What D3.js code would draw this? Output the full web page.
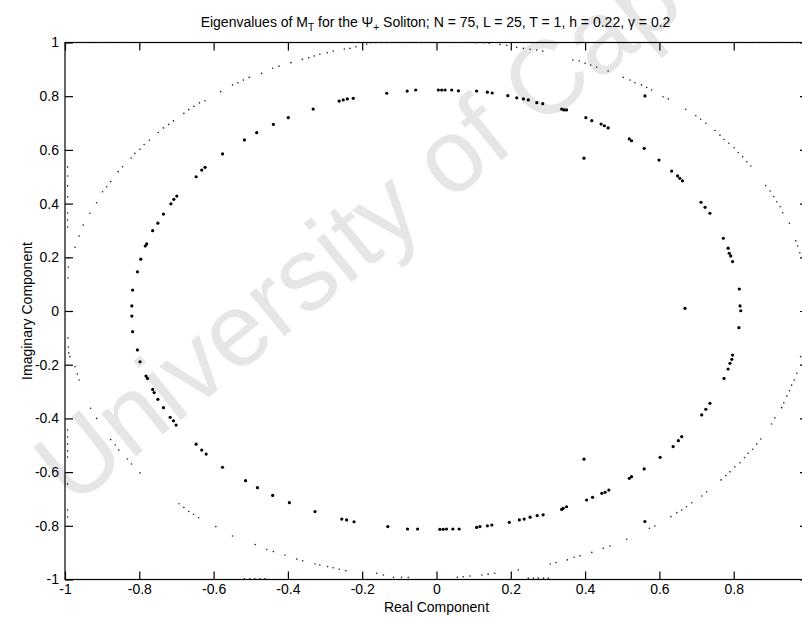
<!DOCTYPE html>
<html>
<head>
<meta charset="utf-8">
<script src="https://cdn.jsdelivr.net/npm/d3@7"></script>
<style>
  body { margin: 0; background: #fff; }
  svg { display: block; }
  text { font-family: "Liberation Sans", Arial, Helvetica, sans-serif; }
</style>
</head>
<body>
<svg id="chart" width="802" height="620"></svg>
<script>
// Eigenvalues on the inner ring (plus a few isolated ones), as [real, imaginary]
const innerEigs = [
  [-0.820, 0.019], [-0.818, 0.078], [-0.805, 0.146], [-0.796, 0.193], [-0.784, 0.242],
  [-0.780, 0.250], [-0.764, 0.299], [-0.750, 0.327], [-0.735, 0.361], [-0.715, 0.399],
  [-0.707, 0.416], [-0.699, 0.428], [-0.647, 0.500], [-0.632, 0.525], [-0.623, 0.535],
  [-0.576, 0.585], [-0.517, 0.637], [-0.484, 0.664], [-0.439, 0.695], [-0.399, 0.720],
  [-0.332, 0.752], [-0.262, 0.782], [-0.251, 0.786], [-0.240, 0.790], [-0.224, 0.792],
  [-0.134, 0.811], [-0.079, 0.819], [-0.056, 0.823], [0.005, 0.823], [0.014, 0.823],
  [0.023, 0.823], [0.041, 0.823], [0.059, 0.820], [0.108, 0.819], [0.137, 0.815],
  [0.150, 0.812], [0.192, 0.802], [0.216, 0.794], [0.234, 0.790], [0.247, 0.786],
  [0.270, 0.776], [0.286, 0.772], [0.337, 0.752], [0.343, 0.749], [0.350, 0.749],
  [0.402, 0.720], [0.418, 0.709], [0.443, 0.696], [0.452, 0.690], [0.462, 0.682],
  [0.519, 0.641], [0.525, 0.634], [0.559, 0.606], [0.599, 0.562], [0.633, 0.521],
  [0.649, 0.503], [0.655, 0.494], [0.662, 0.485], [0.712, 0.405], [0.723, 0.386],
  [0.736, 0.364], [0.772, 0.271], [0.785, 0.234], [0.788, 0.215], [0.792, 0.205],
  [0.797, 0.184], [0.815, 0.082], [0.817, 0.019], [0.819, 0.001], [0.814, -0.062],
  [0.797, -0.164], [0.795, -0.180], [0.790, -0.195], [0.785, -0.216], [0.774, -0.251],
  [0.736, -0.344], [0.725, -0.366], [0.714, -0.387], [0.660, -0.468], [0.651, -0.483],
  [0.637, -0.505], [0.602, -0.545], [0.559, -0.588], [0.525, -0.617], [0.519, -0.623],
  [0.464, -0.667], [0.454, -0.675], [0.445, -0.679], [0.420, -0.694], [0.404, -0.704],
  [0.350, -0.729], [0.341, -0.735], [0.337, -0.739], [0.287, -0.759], [0.271, -0.762],
  [0.252, -0.768], [0.236, -0.775], [0.223, -0.778], [0.196, -0.787], [0.149, -0.797],
  [0.137, -0.800], [0.117, -0.803], [0.108, -0.806], [0.061, -0.812], [0.044, -0.812],
  [0.027, -0.812], [0.018, -0.813], [0.009, -0.813], [-0.051, -0.812], [-0.078, -0.812],
  [-0.131, -0.803], [-0.222, -0.785], [-0.242, -0.778], [-0.255, -0.775], [-0.327, -0.747],
  [-0.396, -0.714], [-0.441, -0.687], [-0.482, -0.658], [-0.514, -0.632], [-0.576, -0.582],
  [-0.620, -0.533], [-0.632, -0.518], [-0.647, -0.496], [-0.701, -0.425], [-0.708, -0.409],
  [-0.717, -0.396], [-0.735, -0.360], [-0.750, -0.329], [-0.760, -0.304], [-0.764, -0.292],
  [-0.778, -0.251], [-0.782, -0.242], [-0.798, -0.189], [-0.805, -0.145], [-0.818, -0.077],
  [-0.820, -0.019],
  // isolated eigenvalues off the ring
  [0.397, 0.569], [0.397, -0.552], [0.669, 0.010], [0.561, 0.801], [0.561, -0.784]
];

// Eigenvalues near the unit circle, as [real, imaginary]
const outerEigs = [
  // column hugging Re = -1
  [-0.993, 0.536], [-0.993, 0.503], [-0.993, 0.466], [-0.993, 0.425], [-0.993, 0.365],
  [-0.993, 0.339], [-0.993, 0.313], [-0.991, 0.197], [-0.991, 0.164], [-0.992, 0.123],
  [-0.992, -0.101], [-0.991, -0.134], [-0.990, -0.156], [-0.987, -0.170], [-0.993, -0.443],
  [-0.993, -0.469], [-0.993, -0.495], [-0.993, -0.521], [-0.993, -0.544], [-0.993, -0.644],
  [-0.993, -0.741], [-0.993, -0.767],
  // upper-left arc
  [-0.973, 0.237], [-0.962, 0.279], [-0.951, 0.320], [-0.933, 0.364], [-0.915, 0.403],
  [-0.899, 0.444], [-0.888, 0.463], [-0.877, 0.482], [-0.857, 0.519], [-0.845, 0.537],
  [-0.822, 0.570], [-0.812, 0.587], [-0.798, 0.602], [-0.787, 0.620], [-0.773, 0.636],
  [-0.749, 0.665], [-0.735, 0.682], [-0.721, 0.695], [-0.708, 0.708], [-0.680, 0.736],
  [-0.667, 0.750], [-0.653, 0.762], [-0.638, 0.775], [-0.623, 0.783], [-0.581, 0.817],
  [-0.549, 0.842], [-0.535, 0.850], [-0.520, 0.860], [-0.504, 0.870], [-0.471, 0.885],
  [-0.441, 0.904], [-0.424, 0.912], [-0.392, 0.925], [-0.361, 0.937], [-0.344, 0.943],
  [-0.329, 0.950], [-0.314, 0.956], [-0.294, 0.962], [-0.278, 0.968], [-0.248, 0.976],
  [-0.233, 0.978], [-0.217, 0.984], [-0.188, 0.994], [-0.177, 0.999], [-0.161, 1.000],
  [-0.148, 1.000],
  // along the top edge
  [-0.134, 1.0], [-0.121, 1.0], [-0.106, 1.0], [-0.094, 1.0], [-0.080, 1.0],
  [-0.067, 1.0], [-0.053, 1.0], [-0.040, 1.0], [-0.026, 1.0], [-0.018, 1.0],
  [0.018, 1.0], [0.036, 1.0], [0.052, 1.0], [0.068, 1.0], [0.086, 1.0],
  [-0.995, 1.0], [-0.981, 1.0], [-0.968, 1.0], [-0.954, 1.0], [-0.941, 1.0],
  [-0.927, 1.0], [-0.914, 1.0], [-0.900, 1.0], [-0.887, 1.0], [-0.873, 1.0],
  [-0.839, 1.0], [0.815, 1.0], [0.869, 1.0], [0.884, 1.0], [0.923, 1.0],
  [0.959, 1.0], [0.973, 1.0],
  // upper-right arc
  [0.108, 0.999], [0.126, 0.999], [0.142, 0.997], [0.171, 0.993], [0.189, 0.990],
  [0.216, 0.982], [0.234, 0.978], [0.252, 0.975], [0.270, 0.972], [0.286, 0.968],
  [0.367, 0.935], [0.384, 0.931], [0.400, 0.923], [0.415, 0.916], [0.431, 0.908],
  [0.462, 0.894], [0.503, 0.870], [0.521, 0.860], [0.534, 0.850], [0.552, 0.842],
  [0.566, 0.833], [0.579, 0.823], [0.610, 0.798], [0.624, 0.790], [0.671, 0.751],
  [0.698, 0.727], [0.711, 0.714], [0.725, 0.699], [0.750, 0.672], [0.763, 0.655],
  [0.774, 0.639], [0.787, 0.625], [0.801, 0.608], [0.812, 0.590], [0.824, 0.575],
  [0.835, 0.556], [0.846, 0.540], [0.886, 0.467], [0.898, 0.447], [0.908, 0.426],
  [0.916, 0.407], [0.925, 0.388], [0.932, 0.366], [0.950, 0.327], [0.967, 0.261],
  [0.972, 0.242], [0.978, 0.217],
  // lower-right arc
  [0.980, -0.170], [0.970, -0.232], [0.963, -0.257], [0.956, -0.276], [0.950, -0.297],
  [0.943, -0.317], [0.935, -0.342], [0.929, -0.360], [0.911, -0.398], [0.902, -0.421],
  [0.873, -0.477], [0.862, -0.495], [0.851, -0.515], [0.839, -0.530], [0.829, -0.546],
  [0.817, -0.565], [0.803, -0.580], [0.790, -0.599], [0.779, -0.613], [0.766, -0.629],
  [0.727, -0.673], [0.714, -0.689], [0.687, -0.714], [0.673, -0.729], [0.660, -0.741],
  [0.647, -0.751], [0.631, -0.766], [0.588, -0.801], [0.573, -0.809], [0.512, -0.850],
  [0.467, -0.875], [0.449, -0.884], [0.418, -0.899], [0.386, -0.912], [0.370, -0.917],
  [0.352, -0.927], [0.322, -0.937], [0.306, -0.942], [0.220, -0.965], [0.157, -0.977],
  [0.139, -0.980], [0.122, -0.983], [0.090, -0.987], [0.072, -0.990], [0.056, -0.992],
  // along the bottom edge
  [0.247, -0.995], [0.261, -0.995], [0.274, -0.995], [0.288, -0.995], [0.301, -0.995],
  [-0.517, -0.997], [-0.502, -0.997], [-0.489, -0.997], [-0.475, -0.997], [-0.462, -0.997],
  [-0.359, -1.0],
  // lower-left arc
  [-0.076, -0.992], [-0.094, -0.992], [-0.116, -0.992], [-0.143, -0.983], [-0.161, -0.977],
  [-0.244, -0.967], [-0.262, -0.962], [-0.278, -0.956], [-0.293, -0.952], [-0.314, -0.946],
  [-0.327, -0.942], [-0.360, -0.930], [-0.376, -0.924], [-0.408, -0.909], [-0.439, -0.896],
  [-0.457, -0.888], [-0.488, -0.870], [-0.549, -0.838], [-0.594, -0.803], [-0.640, -0.770],
  [-0.654, -0.757], [-0.667, -0.747], [-0.680, -0.732], [-0.693, -0.718], [-0.798, -0.603],
  [-0.821, -0.570], [-0.832, -0.551], [-0.855, -0.518], [-0.865, -0.499], [-0.877, -0.479],
  [-0.915, -0.400], [-0.931, -0.362], [-0.962, -0.257], [-0.967, -0.235], [-0.973, -0.207]
];

const xTicks = [-1, -0.8, -0.6, -0.4, -0.2, 0, 0.2, 0.4, 0.6, 0.8, 1];
const yTicks = [-1, -0.8, -0.6, -0.4, -0.2, 0, 0.2, 0.4, 0.6, 0.8, 1];
const xTickLabels = ["-1", "-0.8", "-0.6", "-0.4", "-0.2", "0", "0.2", "0.4", "0.6", "0.8", "1"];
const yTickLabels = ["-1", "-0.8", "-0.6", "-0.4", "-0.2", "0", "0.2", "0.4", "0.6", "0.8", "1"];

const width = 802;
const svg = d3.select("#chart");
const plotL = 65, plotR = 808, plotT = 42.5, plotB = 579.5;

const x = d3.scaleLinear().domain([-1, 1]).range([plotL, plotR]);
const y = d3.scaleLinear().domain([-1, 1]).range([plotB, plotT]);

// faint repository watermark behind the plot
svg.append("text")
  .attr("transform", "translate(72,508) rotate(-39)")
  .attr("font-size", 104)
  .attr("fill", "#e6e6e6")
  .text("University of Cape Town");

// axes box
svg.append("rect")
  .attr("x", plotL).attr("y", plotT)
  .attr("width", plotR - plotL).attr("height", plotB - plotT)
  .attr("fill", "none").attr("stroke", "#000").attr("stroke-width", 1.2);

const fmtX = d => xTickLabels[xTicks.indexOf(d)];
const fmtY = d => yTickLabels[yTicks.indexOf(d)];

function styleAxis(g) {
  g.select(".domain").remove();
  g.selectAll(".tick line").attr("stroke", "#000").attr("stroke-width", 1.2);
  g.selectAll(".tick text").attr("fill", "#000")
    .attr("font-size", 14).attr("font-family", "Liberation Sans, Arial, sans-serif");
}

const xAxisG = svg.append("g").attr("transform", `translate(0,${plotB})`)
  .call(d3.axisBottom(x).tickValues(xTicks).tickFormat(fmtX).tickSize(-8).tickSizeOuter(0).tickPadding(5))
  .call(styleAxis);
// the label for +1 sits past the right edge of the page; leave it out
xAxisG.selectAll(".tick text").filter(d => x(d) > width - 4).remove();

svg.append("g").attr("transform", `translate(0,${plotT})`)
  .call(d3.axisTop(x).tickValues(xTicks).tickFormat("").tickSize(-8).tickSizeOuter(0))
  .call(styleAxis);
svg.append("g").attr("transform", `translate(${plotL},0)`)
  .call(d3.axisLeft(y).tickValues(yTicks).tickFormat(fmtY).tickSize(-8).tickSizeOuter(0).tickPadding(6))
  .call(styleAxis);
svg.append("g").attr("transform", `translate(${plotR},0)`)
  .call(d3.axisRight(y).tickValues(yTicks).tickFormat("").tickSize(-8).tickSizeOuter(0))
  .call(styleAxis);

// eigenvalue markers
svg.append("g").selectAll("circle").data(outerEigs).join("circle")
  .attr("cx", d => x(d[0])).attr("cy", d => y(d[1]))
  .attr("r", 0.8).attr("fill", "#222");

svg.append("g").selectAll("circle").data(innerEigs).join("circle")
  .attr("cx", d => x(d[0])).attr("cy", d => y(d[1]))
  .attr("r", 1.6).attr("fill", "#000");

// title with subscripts
const title = svg.append("text")
  .attr("x", (plotL + plotR) / 2 - 1).attr("y", 27)
  .attr("text-anchor", "middle").attr("font-size", 14).attr("fill", "#000");
title.append("tspan").text("Eigenvalues of M");
title.append("tspan").attr("dy", 4).attr("font-size", 10).text("T");
title.append("tspan").attr("dy", -4).text(" for the \u03A8");
title.append("tspan").attr("dy", 4).attr("font-size", 10).text("+");
title.append("tspan").attr("dy", -4).text(" Soliton; N = 75, L = 25, T = 1, h = 0.22, \u03B3 = 0.2");

// axis labels
svg.append("text")
  .attr("x", (plotL + plotR) / 2).attr("y", 612)
  .attr("text-anchor", "middle").attr("font-size", 14).attr("fill", "#000")
  .text("Real Component");

svg.append("text")
  .attr("transform", `translate(32,${(plotT + plotB) / 2}) rotate(-90)`)
  .attr("text-anchor", "middle").attr("font-size", 14).attr("fill", "#000")
  .text("Imaginary Component");
</script>
</body>
</html>
